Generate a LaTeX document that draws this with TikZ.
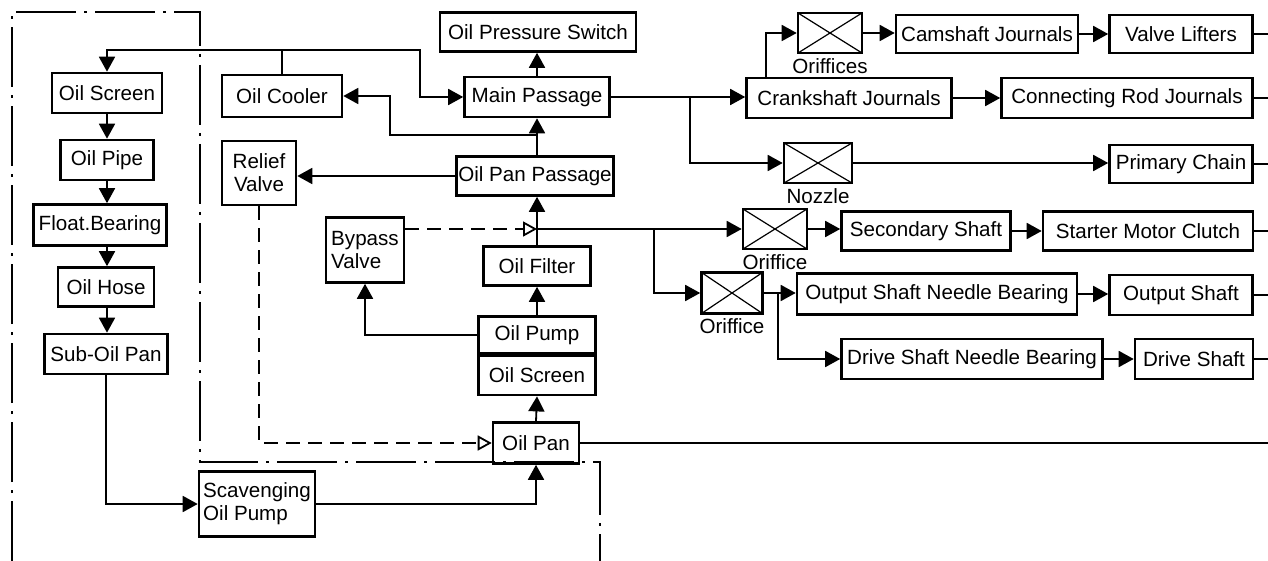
\documentclass[tikz,border=0pt]{standalone}
\usepackage{fontspec}
\setmainfont{Liberation Sans}
\setsansfont{Liberation Sans}
\usetikzlibrary{arrows.meta}

\tikzset{
  boxfont/.style={font=\sffamily\fontsize{10.3}{11.4}\selectfont},
  box/.style={draw, line width=1.3pt, inner sep=1pt, align=center, boxfont},
  tag/.style={boxfont, inner sep=1.8pt},
  orifice/.style={draw, line width=1.3pt, inner sep=0pt,
    minimum width=32pt, minimum height=20pt,
    path picture={\draw[line width=0.6pt]
      (path picture bounding box.north west) -- (path picture bounding box.south east)
      (path picture bounding box.south west) -- (path picture bounding box.north east);}},
  flow/.style={line width=0.9pt, ->},
  bypass/.style={line width=0.9pt, dash pattern=on 7pt off 4pt,
    -{Triangle[open, length=7pt, width=7.5pt]}},
  border/.style={line width=0.9pt, dash pattern=on 30pt off 4pt on 1.5pt off 4pt}
}

\begin{document}
\begin{tikzpicture}[x=0.5pt, y=-0.5pt, >={Triangle[length=7.5pt, width=8pt]}]
  \useasboundingbox (0,0) rectangle (1268,561);
  \coordinate (edge) at (1268,0);

  % boundary of the sump side
  \draw[border] (12,561) -- (12,12) -- (200,12) -- (200,462) -- (600,462) -- (600,561);

  % left column
  \node[box, minimum width=55pt, minimum height=20pt] (scrL) at (107,93) {Oil Screen};
  \node[box, minimum width=46.5pt, minimum height=20pt] (pipe) at (107,160) {Oil Pipe};
  \node[box, minimum width=66.5pt, minimum height=20.5pt] (float) at (100,225) {Float.Bearing};
  \node[box, minimum width=48pt, minimum height=19.5pt] (hose) at (106,287) {Oil Hose};
  \node[box, minimum width=61.5pt, minimum height=20pt] (subpan) at (106,354) {Sub-Oil Pan};
  \node[box, align=left, minimum width=58pt, minimum height=32.5pt] (scav) at (257,504) {Scavenging\\Oil Pump};

  % valves and cooler
  \node[box, minimum width=60pt, minimum height=21pt] (cooler) at (282,96) {Oil Cooler};
  \node[box, minimum width=37pt, minimum height=32pt] (relief) at (259,173) {Relief\\Valve};
  \node[box, align=left, minimum width=39pt, minimum height=32.5pt] (bypass) at (365,250) {Bypass\\Valve};

  % centre column
  \node[box, minimum width=98pt, minimum height=19.5pt] (ops) at (538,32) {Oil Pressure Switch};
  \node[box, minimum width=72.5pt, minimum height=20pt] (main) at (537,97) {Main Passage};
  \node[box, minimum width=78.5pt, minimum height=19.5pt] (panpass) at (535,176) {Oil Pan Passage};
  \node[box, minimum width=53.5pt, minimum height=19.5pt] (filter) at (537,266) {Oil Filter};
  \node[box, minimum width=58.5pt, minimum height=18.5pt] (pump) at (537,335) {Oil Pump};
  \node[box, minimum width=58.5pt, minimum height=19.5pt, anchor=north] (scrC) at (pump.south) {Oil Screen};
  \node[box, minimum width=43pt, minimum height=20.5pt] (pan) at (536,443) {Oil Pan};

  % engine side
  \node[orifice, label={[tag]below:Oriffices}] (ofs) at (830,33) {};
  \node[box, minimum width=91pt, minimum height=19pt] (cam) at (987,34) {Camshaft Journals};
  \node[box, minimum width=71.5pt, minimum height=19pt] (lift) at (1181,34) {Valve Lifters};
  \node[box, minimum width=102.5pt, minimum height=20pt] (crank) at (849,98) {Crankshaft Journals};
  \node[box, minimum width=125.5pt, minimum height=20pt] (conrod) at (1127,98) {Connecting Rod Journals};
  \node[orifice, minimum width=34pt, label={[tag]below:Nozzle}] (nozzle) at (818,163) {};
  \node[box, minimum width=71.5pt, minimum height=19pt] (chain) at (1181,164) {Primary Chain};

  % transmission side
  \node[orifice, label={[tag]below:Oriffice}] (of1) at (775,229) {};
  \node[box, minimum width=84.5pt, minimum height=19.5pt] (sec) at (926,231) {Secondary Shaft};
  \node[box, minimum width=105pt, minimum height=19.5pt] (starter) at (1148,231) {Starter Motor Clutch};
  \node[orifice, minimum width=30.5pt, minimum height=20.5pt, label={[tag]below:Oriffice}] (of2) at (732,293) {};
  \node[box, minimum width=140pt, minimum height=20.5pt] (osnb) at (937,294) {Output Shaft Needle Bearing};
  \node[box, minimum width=71.5pt, minimum height=20pt] (oshaft) at (1181,295) {Output Shaft};
  \node[box, minimum width=130.5pt, minimum height=20pt] (dsnb) at (972,359) {Drive Shaft Needle Bearing};
  \node[box, minimum width=59pt, minimum height=20pt] (dshaft) at (1194,359) {Drive Shaft};

  % junctions
  \coordinate (cj) at (282,50);
  \coordinate (mbend) at (420,50);
  \coordinate (cb) at (537,135);
  \coordinate (cb2) at (390,135);
  \coordinate (fj) at (537,229);
  \coordinate (fb) at (654,229);
  \coordinate (mb) at (690,97);
  \coordinate (ob) at (778,293);

  % sump circuit
  \foreach \a/\b in {scrL/pipe, pipe/float, float/hose, hose/subpan}
    \draw[flow] (\a.south -| scrL.south) -- (\b.north -| scrL.south);
  \draw[flow] (subpan.south) |- (scav.west);
  \draw[flow] (scav.east) -| (pan.south);
  \draw[flow] (pan.north) -- (scrC.south);
  \draw[line width=0.9pt] (pan.east) -- (pan.east -| edge);

  % pressure circuit
  \draw[flow] (pump.north) -- (filter.south);
  \draw[flow] (filter.north) -- (panpass.south -| filter.north);
  \draw[flow] (pump.west) -| (bypass.south);
  \draw[bypass] (fj -| bypass.east) -- (fj);
  \draw[flow] (panpass.north -| main.south) -- (main.south);
  \draw[flow] (cb) -- (cb2) |- (cooler.east);
  \draw[flow] (panpass.west) -- (panpass.west -| relief.east);
  \draw[bypass] (relief.south) |- (pan.west);
  \draw[flow] (main.north) -- (main.north |- ops.south);
  \draw[line width=0.9pt] (cooler.north) -- (cj);
  \draw[flow] (cj) -| (scrL.north);
  \draw[flow] (cj) -- (mbend) |- (main.west);

  % engine branches
  \draw[flow] (main.east) -- (main.east -| crank.west);
  \draw[flow] (mb) |- (nozzle.west);
  \draw[flow] (crank.north west) ++(21,0) |- (ofs.west);
  \draw[flow] (ofs.east) -- (ofs.east -| cam.west);
  \draw[flow] (cam.east) -- (cam.east -| lift.west);
  \draw[flow] (crank.east) -- (crank.east -| conrod.west);
  \draw[flow] (nozzle.east) -- (nozzle.east -| chain.west);

  % transmission branches
  \draw[flow] (fj) -- (of1.west);
  \draw[flow] (fb) |- (of2.west);
  \draw[flow] (of1.east) -- (of1.east -| sec.west);
  \draw[flow] (sec.east) -- (sec.east -| starter.west);
  \draw[flow] (of2.east) -- (of2.east -| osnb.west);
  \draw[flow] (ob) |- (dsnb.west);
  \draw[flow] (osnb.east) -- (osnb.east -| oshaft.west);
  \draw[flow] (dsnb.east) -- (dsnb.east -| dshaft.west);

  % outlets to the right
  \foreach \n in {lift, conrod, chain, starter, oshaft, dshaft}
    \draw[line width=0.9pt] (\n.east) -- (\n.east -| edge);
\end{tikzpicture}
\end{document}
